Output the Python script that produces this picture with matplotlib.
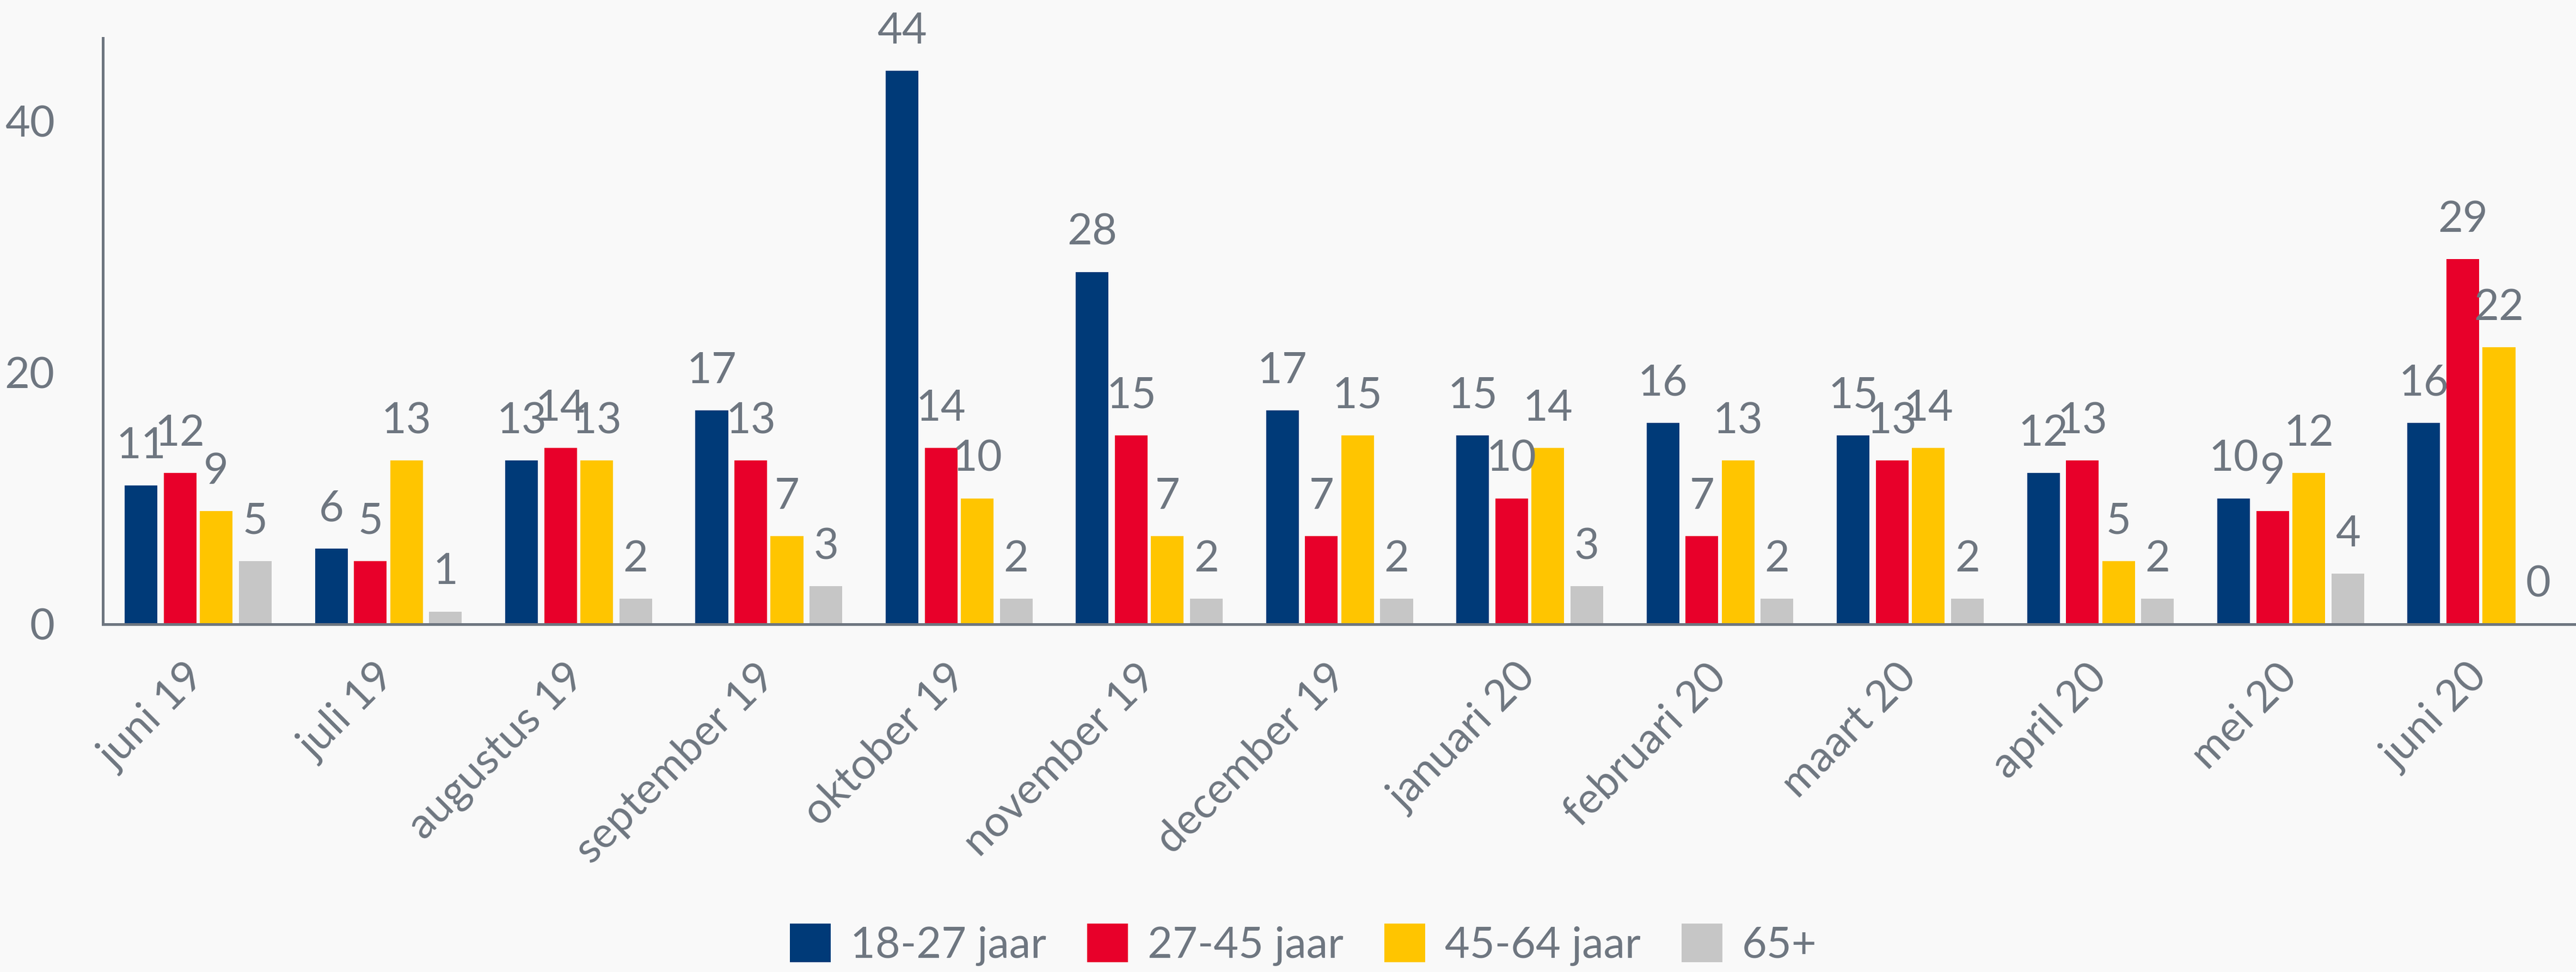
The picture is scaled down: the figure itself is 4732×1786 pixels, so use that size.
import matplotlib.pyplot as plt
import numpy as np

plt.rcParams['font.family'] = ['Lato', 'DejaVu Sans']

maanden = ['juni 19', 'juli 19', 'augustus 19', 'september 19', 'oktober 19',
           'november 19', 'december 19', 'januari 20', 'februari 20',
           'maart 20', 'april 20', 'mei 20', 'juni 20']

groepen = ['18-27 jaar', '27-45 jaar', '45-64 jaar', '65+']

jaar_18_27 = [11, 6, 13, 17, 44, 28, 17, 15, 16, 15, 12, 10, 16]
jaar_27_45 = [12, 5, 14, 13, 14, 15, 7, 10, 7, 13, 13, 9, 29]
jaar_45_64 = [9, 13, 13, 7, 10, 7, 15, 14, 13, 14, 5, 12, 22]
jaar_65 = [5, 1, 2, 3, 2, 2, 2, 3, 2, 2, 2, 4, 0]

kleuren = ['#003a78', '#e8002a', '#ffc500', '#c6c6c6']
tekst = '#6e7680'
achtergrond = '#f9f9f9'

reeksen = [jaar_18_27, jaar_27_45, jaar_45_64, jaar_65]

fig = plt.figure(figsize=(47.32, 17.86), dpi=100, facecolor=achtergrond)
ax = fig.add_axes([0.04, 0.358, 0.96, 0.603])
ax.set_facecolor(achtergrond)

x = np.arange(len(maanden))
offsets = [-0.30, -0.095, 0.095, 0.30]
breedte = 0.172

for vals, kleur, naam, off in zip(reeksen, kleuren, groepen, offsets):
    bars = ax.bar(x + off, vals, breedte, color=kleur, label=naam)
    for b, v in zip(bars, vals):
        ax.annotate(str(v), (b.get_x() + b.get_width() / 2, v),
                    xytext=(0, 26), textcoords='offset points',
                    ha='center', va='bottom', fontsize=57, color=tekst)

ax.set_xlim(-0.5, 12.5)
ax.set_ylim(0, 46.6)
ax.set_yticks([0, 20, 40])
ax.set_xticks(x)
ax.set_xticklabels(maanden, rotation=45, ha='right', va='center',
                   rotation_mode='anchor')
ax.tick_params(axis='both', length=0, labelsize=57, labelcolor=tekst)
ax.tick_params(axis='y', pad=64)
ax.tick_params(axis='x', pad=62)

for s in ['top', 'right']:
    ax.spines[s].set_visible(False)
for s in ['left', 'bottom']:
    ax.spines[s].set_color(tekst)
    ax.spines[s].set_linewidth(3.6)

leg = fig.legend(loc='center', bbox_to_anchor=(0.506, 0.028), ncol=4,
                 frameon=False, fontsize=57, handlelength=0.95,
                 handleheight=1.0, handletextpad=0.45, columnspacing=0.95)
for t in leg.get_texts():
    t.set_color(tekst)

plt.savefig('out.png', facecolor=achtergrond)
